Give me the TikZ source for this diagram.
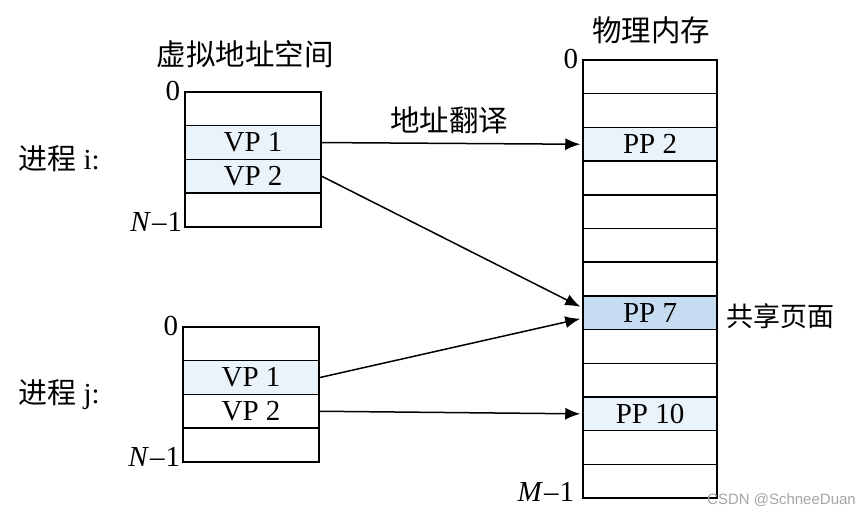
\documentclass[tikz,border=0pt]{standalone}
\usepackage{fontspec}
\setmainfont{Liberation Serif}
\newfontfamily\cjk{Noto Sans CJK SC}
\newfontfamily\wmfont{Liberation Sans}
\usetikzlibrary{arrows.meta}

\definecolor{pagelight}{HTML}{EAF2FA}
\definecolor{pageshared}{HTML}{C6DCF1}

\tikzset{
  cell/.style={draw, line width=1.5pt, minimum height=33.7pt, inner sep=0pt,
    font=\fontsize{29}{30}\selectfont},
  vcell/.style={cell, minimum width=136pt},
  mcell/.style={cell, minimum width=134pt},
  mapping/.style={line width=1.5pt, -{Latex[length=15pt,width=12pt]}},
  lbl/.style={font=\fontsize{29}{30}\selectfont, inner sep=0pt},
  cjklbl/.style={font=\cjk\fontsize{29.5}{30}\selectfont, inner sep=0pt}
}

\begin{document}
\begin{tikzpicture}[x=1pt,y=-1pt]
\useasboundingbox[fill=white] (0,0) rectangle (859,516);

% virtual address space, process i
\node[vcell] (vi0) at (253,108.85) {};
\node[vcell, fill=pagelight] (vi1) at (253,142.55) {VP 1};
\node[vcell, fill=pagelight] (vi2) at (253,176.25) {VP 2};
\node[vcell] (vi3) at (253,209.95) {};

% virtual address space, process j
\node[vcell] (vj0) at (251,343.85) {};
\node[vcell, fill=pagelight] (vj1) at (251,377.55) {VP 1};
\node[vcell, fill=white] (vj2) at (251,411.25) {VP 2};
\node[vcell] (vj3) at (251,444.95) {};

% physical memory
\foreach \k in {0,1,3,4,5,6,8,9,11,12}
  \node[mcell] (m\k) at (650,{76.85+33.7*\k}) {};
\node[mcell, fill=pagelight] (m2) at (650,144.25) {PP 2};
\node[mcell, fill=pageshared] (m7) at (650,312.75) {PP 7};
\node[mcell, fill=pagelight] (m10) at (650,413.85) {PP 10};

% labels
\node[cjklbl] (vtitle) at (245,54) {虚拟地址空间};
\node[cjklbl] (mtitle) at (651,30) {物理内存};
\node[lbl, anchor=east] (vi-top) at ([xshift=-4pt]vi0.north west) {0};
\node[lbl, anchor=base east] (vi-bot) at ([xshift=-2pt,yshift=-4pt]vi3.south west) {\textit{N}\kern1pt--\kern1pt1};
\node[lbl, anchor=east] (vj-top) at ([xshift=-4pt]vj0.north west) {0};
\node[lbl, anchor=base east] (vj-bot) at ([xshift=-2pt,yshift=-4pt]vj3.south west) {\textit{N}\kern1pt--\kern1pt1};
\node[lbl, anchor=east] (m-top) at ([xshift=-4pt]m0.north west) {0};
\node[lbl, anchor=base east] (m-bot) at ([xshift=-8pt,yshift=-3pt]m12.south west) {\textit{M}\kern1pt--\kern1pt1};
\node[lbl, anchor=east] (proc-i) at (100,159) {{\cjk 进程} i:};
\node[lbl, anchor=east] (proc-j) at (100,395) {{\cjk 进程} j:};
\node[cjklbl] (xlate) at (449,120) {地址翻译};
\node[cjklbl, font=\cjk\fontsize{27}{30}\selectfont, anchor=west] (shared) at ([xshift=9pt,yshift=-3pt]m7.east) {共享页面};

% page mappings
\draw[mapping] (vi1.east) -- ([xshift=-2pt]m2.west);
\draw[mapping] (vi2.east) -- ([xshift=-2pt,yshift=6pt]m7.west);
\draw[mapping] (vj1.east) -- ([xshift=-2pt,yshift=-6pt]m7.west);
\draw[mapping] (vj2.east) -- ([xshift=-2pt]m10.west);

\node[font=\wmfont\fontsize{15}{16}\selectfont, text=black!35, anchor=east, inner sep=0pt] (mark) at (856,500) {CSDN @SchneeDuan};
\end{tikzpicture}
\end{document}
